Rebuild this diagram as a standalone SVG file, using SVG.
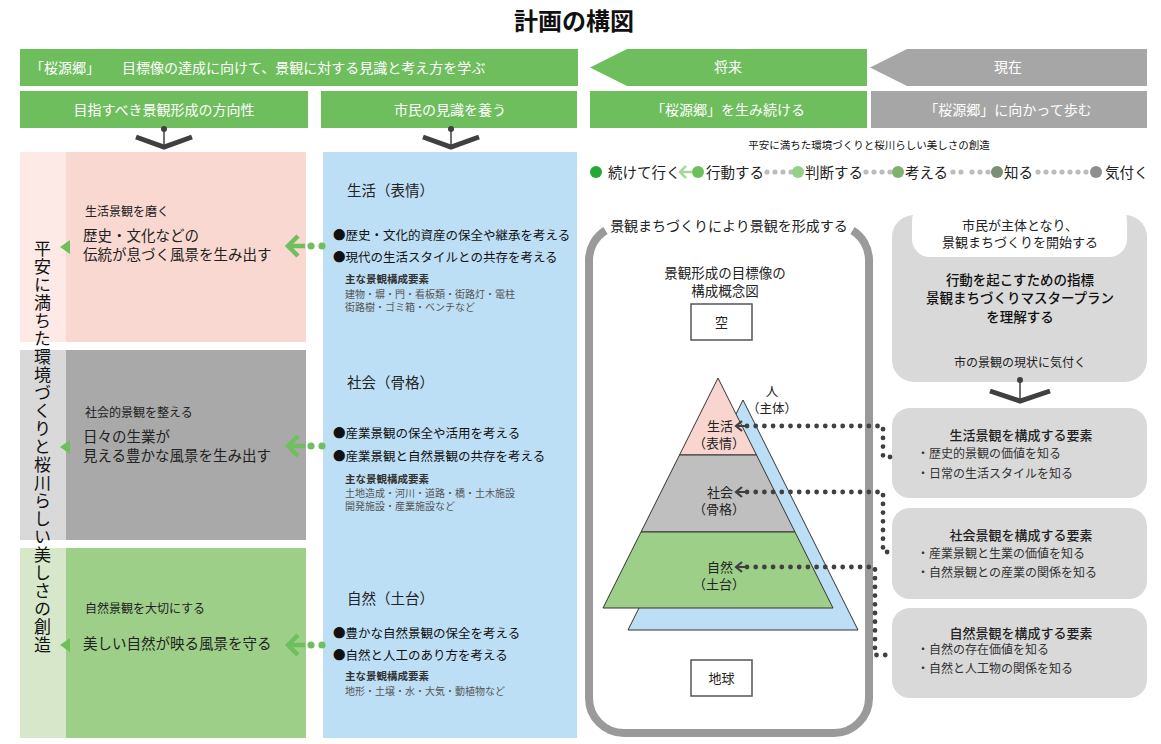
<svg xmlns="http://www.w3.org/2000/svg" width="1161" height="744" viewBox="0 0 1161 744">
<defs>
<style>
text{font-family:"Noto Sans CJK JP","Noto Sans CJK SC",sans-serif;fill:#222;}
.c{text-anchor:middle;}
.f14{font-size:14px;}
.f13{font-size:13px;}
.f12{font-size:12px;}
.f10{font-size:10.5px;}
.s10{font-size:10px;fill:#555;}
.bold{font-weight:bold;}
.green{fill:#6fbe5e;}
.gray{fill:#a6a6a6;}
.lgray{fill:#d9d9d9;}
.chev{fill:none;stroke:#404040;stroke-width:5;stroke-linejoin:miter;}
.stem{stroke:#404040;stroke-width:1.5;}
.gArrow{fill:none;stroke:#6fbf5e;stroke-width:4.5;stroke-linecap:butt;}
.dotline{fill:none;stroke:#404040;stroke-width:4.8;stroke-linecap:round;stroke-dasharray:0 8.7;}
.darrow{fill:none;stroke:#404040;stroke-width:2.2;}
.tri{stroke:#333;stroke-width:1;}
.box{fill:#fff;stroke:#555;stroke-width:1.5;}
.sdot{fill:#bdbdbd;}
</style>
</defs>

<text x="574" y="30" class="c bold" style="font-size:24px;fill:#111">計画の構図</text>

<g id="top-bar">
<rect x="20" y="49" width="558" height="37" class="green"/>
<text x="30" y="72.5" class="f14" style="fill:#fff">「桜源郷」</text>
<text x="122" y="72.5" class="f14" style="fill:#fff">目標像の達成に向けて、景観に対する見識と考え方を学ぶ</text>
</g>

<g id="hdr-direction">
<rect x="20" y="91" width="288" height="37" class="green"/>
<text x="164" y="114.5" class="c f14" style="fill:#fff">目指すべき景観形成の方向性</text>
</g>
<g id="hdr-citizen">
<rect x="321" y="91" width="256" height="37" class="green"/>
<text x="450" y="114.5" class="c f14" style="fill:#fff">市民の見識を養う</text>
</g>

<g id="arrow-future">
<polygon points="590,67.5 627,49 867,49 867,86 627,86" class="green"/>
<text x="728" y="72" class="c f14" style="fill:#fff">将来</text>
</g>
<g id="arrow-present">
<polygon points="870,67.5 907,49 1147,49 1147,86 907,86" class="gray"/>
<text x="1008" y="72" class="c f14" style="fill:#fff">現在</text>
</g>
<g id="hdr-future">
<rect x="590" y="91" width="277" height="37" class="green"/>
<text x="728" y="115" class="c f14" style="fill:#fff">「桜源郷」を生み続ける</text>
</g>
<g id="hdr-present">
<rect x="871" y="91" width="276" height="37" class="gray"/>
<text x="1008" y="115" class="c f14" style="fill:#fff">「桜源郷」に向かって歩む</text>
</g>

<text x="869" y="149" class="c f10" style="fill:#111">平安に満ちた環境づくりと桜川らしい美しさの創造</text>

<g id="progress">
<circle cx="596" cy="172" r="6" fill="#26a836"/>
<text x="608" y="177.5" style="font-size:14.5px">続けて行く</text>
<path d="M686 166 L680 172 L686 178 M680 172 L692 172" fill="none" stroke="#a6d89b" stroke-width="2.5"/>
<circle cx="698" cy="172" r="6" fill="#6cc05c"/>
<text x="706" y="177.5" style="font-size:14.5px">行動する</text>
<circle cx="767" cy="172" r="2.6" class="sdot"/><circle cx="775" cy="172" r="2.6" class="sdot"/><circle cx="783" cy="172" r="2.6" class="sdot"/><circle cx="791" cy="172" r="2.6" class="sdot"/>
<circle cx="798" cy="172" r="6" fill="#93d189"/>
<text x="805" y="177.5" style="font-size:14.5px">判断する</text>
<circle cx="866" cy="172" r="2.6" class="sdot"/><circle cx="874" cy="172" r="2.6" class="sdot"/><circle cx="882" cy="172" r="2.6" class="sdot"/><circle cx="890" cy="172" r="2.6" class="sdot"/>
<circle cx="898" cy="172" r="6" fill="#7fb26f"/>
<text x="905" y="177.5" style="font-size:14.5px">考える</text>
<circle cx="953" cy="172" r="2.6" class="sdot"/><circle cx="961" cy="172" r="2.6" class="sdot"/><circle cx="972" cy="172" r="2.6" class="sdot"/><circle cx="980" cy="172" r="2.6" class="sdot"/><circle cx="988" cy="172" r="2.6" class="sdot"/>
<circle cx="997" cy="172" r="6" fill="#7b8f72"/>
<text x="1004" y="177.5" style="font-size:14.5px">知る</text>
<circle cx="1038" cy="172" r="2.6" class="sdot"/><circle cx="1046" cy="172" r="2.6" class="sdot"/><circle cx="1054" cy="172" r="2.6" class="sdot"/><circle cx="1062" cy="172" r="2.6" class="sdot"/><circle cx="1070" cy="172" r="2.6" class="sdot"/><circle cx="1078" cy="172" r="2.6" class="sdot"/><circle cx="1086" cy="172" r="2.6" class="sdot"/>
<circle cx="1096" cy="172" r="6" fill="#8e8e8e"/>
<text x="1105" y="177.5" style="font-size:14.5px">気付く</text>
</g>

<g id="left-strip">
<rect x="20" y="152" width="46" height="190" fill="#fde9e6"/>
<rect x="20" y="350" width="46" height="190" fill="#d9d9d9"/>
<rect x="20" y="548" width="46" height="190" fill="#d6e8c9"/>
<text x="42.5" y="240" style="writing-mode:vertical-rl;font-size:17px;letter-spacing:1px;fill:#111">平安に満ちた環境づくりと桜川らしい美しさの創造</text>
</g>

<g id="dir-life">
<rect x="66" y="152" width="240" height="190" fill="#f9d8d1"/>
<polygon points="60,247 70,240 70,254" fill="#6dbf5b"/>
<text x="85" y="216" class="f12">生活景観を磨く</text>
<text x="83" y="240.5" style="font-size:14.5px"><tspan x="83">歴史・文化などの</tspan><tspan x="83" dy="19">伝統が息づく風景を生み出す</tspan></text>
</g>
<g id="dir-society">
<rect x="66" y="350" width="240" height="190" fill="#a9a9a9"/>
<polygon points="60,447 70,440 70,454" fill="#6dbf5b"/>
<text x="85" y="416.5" class="f12">社会的景観を整える</text>
<text x="83" y="441.5" style="font-size:14.5px"><tspan x="83">日々の生業が</tspan><tspan x="83" dy="19.2">見える豊かな風景を生み出す</tspan></text>
</g>
<g id="dir-nature">
<rect x="66" y="548" width="240" height="190" fill="#9dcf88"/>
<polygon points="60,645 70,638 70,652" fill="#6dbf5b"/>
<text x="85" y="612.5" class="f12">自然景観を大切にする</text>
<text x="83" y="648.5" style="font-size:14.5px">美しい自然が映る風景を守る</text>
</g>

<g id="citizen-column">
<rect x="323" y="152" width="254" height="586" fill="#bddff6"/>
<text x="347" y="195.5" style="font-size:14.5px">生活（表情）</text>
<text x="333" y="239.5" style="font-size:12.5px;fill:#111">●歴史・文化的資産の保全や継承を考える</text>
<text x="333" y="261.5" style="font-size:12.5px;fill:#111">●現代の生活スタイルとの共存を考える</text>
<text x="345" y="283" class="f10 bold" style="fill:#333">主な景観構成要素</text>
<text x="345" y="298" class="s10"><tspan x="345">建物・塀・門・看板類・街路灯・電柱</tspan><tspan x="345" dy="13.2">街路樹・ゴミ箱・ベンチなど</tspan></text>

<text x="347" y="387.5" style="font-size:14.5px">社会（骨格）</text>
<text x="333" y="438" style="font-size:12.5px;fill:#111">●産業景観の保全や活用を考える</text>
<text x="333" y="461" style="font-size:12.5px;fill:#111">●産業景観と自然景観の共存を考える</text>
<text x="345" y="483" class="f10 bold" style="fill:#333">主な景観構成要素</text>
<text x="345" y="497" class="s10"><tspan x="345">土地造成・河川・道路・橋・土木施設</tspan><tspan x="345" dy="13.2">開発施設・産業施設など</tspan></text>

<text x="347" y="603.5" style="font-size:14.5px">自然（土台）</text>
<text x="333" y="638" style="font-size:12.5px;fill:#111">●豊かな自然景観の保全を考える</text>
<text x="333" y="660" style="font-size:12.5px;fill:#111">●自然と人工のあり方を考える</text>
<text x="345" y="680" class="f10 bold" style="fill:#333">主な景観構成要素</text>
<text x="345" y="694.5" class="s10">地形・土壌・水・大気・動植物など</text>
</g>

<g id="concept-frame">
<path d="M605.5 230.5 A35 35 0 0 0 589 260 L589 698 A35 35 0 0 0 624 733 L834 733 A35 35 0 0 0 869 698 L869 260 A35 35 0 0 0 852.5 230.5" fill="none" stroke="#9a9a9a" stroke-width="8"/>
<text x="729" y="231" class="c f14">景観まちづくりにより景観を形成する</text>
<text x="725" y="278" class="c" style="font-size:13.5px"><tspan x="725">景観形成の目標像の</tspan><tspan x="725" dy="18">構成概念図</tspan></text>
</g>

<g id="sky">
<rect x="691" y="304" width="61" height="36" class="box"/>
<text x="721.5" y="327" class="c f13">空</text>
</g>
<g id="earth">
<rect x="691" y="660" width="61" height="36" class="box"/>
<text x="721.5" y="683" class="c f13">地球</text>
</g>

<g id="pyramid">
<polygon points="743,400 628,630 858,630" fill="#bddff5" class="tri"/>
<polygon points="718,378 679.5,455 756.5,455" fill="#f8d5ce" class="tri"/>
<polygon points="679.5,455 756.5,455 795,532 641,532" fill="#bfbfbf" class="tri"/>
<polygon points="641,532 795,532 833,608 603,608" fill="#9dcf88" class="tri"/>
<text x="772" y="396" class="c" style="font-size:12.5px"><tspan x="772">人</tspan><tspan x="772" dy="17">（主体）</tspan></text>
<text x="720" y="431" class="c f13"><tspan x="720">生活</tspan><tspan x="719" dy="17">（表情）</tspan></text>
<text x="720" y="497" class="c f13"><tspan x="720">社会</tspan><tspan x="719" dy="17">（骨格）</tspan></text>
<text x="720" y="572" class="c f13"><tspan x="720">自然</tspan><tspan x="719" dy="17">（土台）</tspan></text>
</g>

<g id="citizen-start">
<rect x="892" y="215" width="255" height="167" rx="22" class="lgray"/>
<rect x="912" y="203" width="215" height="54" rx="18" fill="#fff"/>
<text x="1020" y="230" class="c f13"><tspan x="1020">市民が主体となり、</tspan><tspan x="1020" dy="17">景観まちづくりを開始する</tspan></text>
<text x="1020" y="285" class="c" style="font-size:13.5px;font-weight:500;fill:#111"><tspan x="1020">行動を起こすための指標</tspan><tspan x="1020" dy="18">景観まちづくりマスタープラン</tspan><tspan x="1020" dy="18.5">を理解する</tspan></text>
<text x="1020" y="367" class="c f12">市の景観の現状に気付く</text>
</g>

<g id="elem-life">
<rect x="892" y="408" width="255" height="90" rx="18" class="lgray"/>
<text x="1021" y="440" class="c f13" style="font-weight:500">生活景観を構成する要素</text>
<text x="917" y="458" class="f12" style="fill:#333"><tspan x="917">・歴史的景観の価値を知る</tspan><tspan x="917" dy="19.5">・日常の生活スタイルを知る</tspan></text>
</g>
<g id="elem-society">
<rect x="892" y="508" width="255" height="91" rx="18" class="lgray"/>
<text x="1021" y="540" class="c f13" style="font-weight:500">社会景観を構成する要素</text>
<text x="917" y="558" class="f12" style="fill:#333"><tspan x="917">・産業景観と生業の価値を知る</tspan><tspan x="917" dy="19">・自然景観との産業の関係を知る</tspan></text>
</g>
<g id="elem-nature">
<rect x="892" y="608" width="255" height="90" rx="18" class="lgray"/>
<text x="1021" y="638" class="c f13" style="font-weight:500">自然景観を構成する要素</text>
<text x="917" y="654" class="f12" style="fill:#333"><tspan x="917">・自然の存在価値を知る</tspan><tspan x="917" dy="19">・自然と人工物の関係を知る</tspan></text>
</g>

<g id="connectors">
<line x1="164" y1="129" x2="164" y2="146" class="stem"/>
<circle cx="164" cy="129" r="3" fill="#404040"/>
<polyline points="136,137 164,147 192,137" class="chev"/>
<line x1="451" y1="129" x2="451" y2="146" class="stem"/>
<circle cx="451" cy="129" r="3" fill="#404040"/>
<polyline points="423,137 451,147 479,137" class="chev"/>
<line x1="1020" y1="380" x2="1020" y2="399" class="stem"/>
<circle cx="1020" cy="380" r="3" fill="#404040"/>
<polyline points="990,391 1020,401 1050,391" class="chev"/>

<path d="M298 236 L288 246 L298 256 M288 246 L305 246" class="gArrow"/>
<circle cx="311" cy="246" r="3.6" fill="#6fbf5e"/><circle cx="322" cy="246" r="3.6" fill="#6fbf5e"/>
<path d="M298 436 L288 446 L298 456 M288 446 L305 446" class="gArrow"/>
<circle cx="311" cy="446" r="3.6" fill="#6fbf5e"/><circle cx="322" cy="446" r="3.6" fill="#6fbf5e"/>
<path d="M298 635 L288 645 L298 655 M288 645 L305 645" class="gArrow"/>
<circle cx="311" cy="645" r="3.6" fill="#6fbf5e"/><circle cx="322" cy="645" r="3.6" fill="#6fbf5e"/>

<polyline points="747,426 883,426 883,457 893,457" class="dotline"/>
<path d="M742 421 L736 426 L742 431 M736 426 L745 426" class="darrow"/>
<polyline points="747,492 883,492 883,552 893,552" class="dotline"/>
<path d="M742 487 L736 492 L742 497 M736 492 L745 492" class="darrow"/>
<polyline points="747,567 875,567 875,655 893,655" class="dotline"/>
<path d="M742 562 L736 567 L742 572 M736 567 L745 567" class="darrow"/>
</g>
</svg>
